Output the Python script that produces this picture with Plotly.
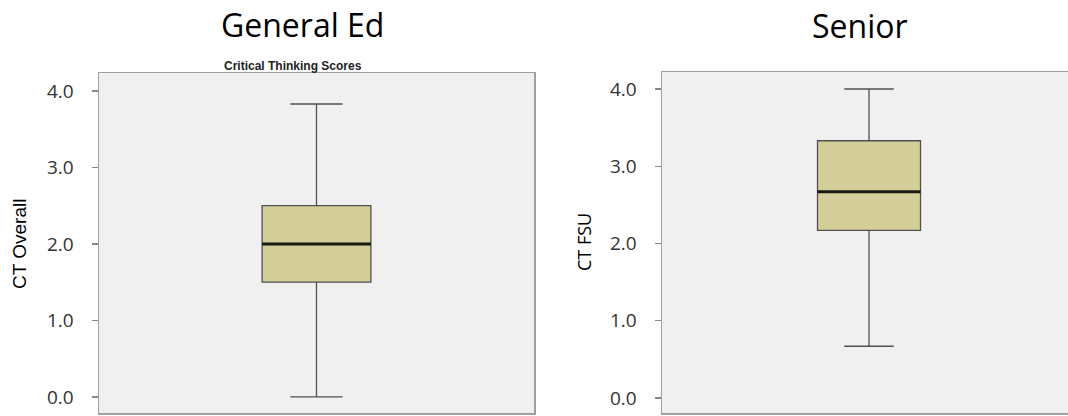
import plotly.graph_objects as go

# ---- data ----
panels = ["General Ed", "Senior"]
y_titles = ["CT Overall", "CT FSU"]
subtitle = "Critical Thinking Scores"
lower_fence = [0.0, 0.67]
q1_vals = [1.5, 2.17]
median_vals = [2.0, 2.67]
q3_vals = [2.5, 3.33]
upper_fence = [3.83, 4.0]
tick_vals = [0, 1, 2, 3, 4]
tick_text = ["0.0", "1.0", "2.0", "3.0", "4.0"]

W, H = 1068, 416
BOX_W = 0.5
fill = "rgb(212,207,152)"
edge = "rgb(80,80,80)"
frame = "rgb(160,160,160)"

fig = go.Figure()
axes = [("x", "y"), ("x2", "y2")]
for i, (xa, ya) in enumerate(axes):
    fig.add_trace(go.Box(
        x=[0], q1=[q1_vals[i]], median=[median_vals[i]], q3=[q3_vals[i]],
        lowerfence=[lower_fence[i]], upperfence=[upper_fence[i]],
        width=BOX_W, whiskerwidth=0.48, fillcolor=fill,
        line=dict(color=edge, width=1.3), boxpoints=False,
        xaxis=xa, yaxis=ya, showlegend=False, hoverinfo="skip"))
    fig.add_trace(go.Scatter(
        x=[-BOX_W / 2, BOX_W / 2], y=[median_vals[i]] * 2, mode="lines",
        line=dict(color="rgb(25,25,20)", width=3), xaxis=xa, yaxis=ya,
        showlegend=False, hoverinfo="skip"))

tickfont = dict(family="Open Sans", size=19, color="#333333")
yax_common = dict(tickvals=tick_vals, ticktext=tick_text, ticks="outside",
                  ticklen=6, tickcolor="#888888", tickwidth=1.2,
                  showgrid=False, zeroline=False, showline=True,
                  linecolor=frame, linewidth=1.5, tickfont=tickfont,
                  ticklabelstandoff=14, fixedrange=True)
xax_common = dict(showticklabels=False, showgrid=False, zeroline=False,
                  showline=True, mirror=True, linecolor=frame, linewidth=1.5,
                  ticks="", fixedrange=True)

fig.update_layout(
    width=W, height=H, margin=dict(l=0, r=0, t=0, b=0),
    paper_bgcolor="white", plot_bgcolor="rgb(240,240,240)",
    xaxis=dict(domain=[99 / W, 534 / W], range=[-1, 1], anchor="y", **xax_common),
    yaxis=dict(domain=[1 - 413 / H, 1 - 73 / H], range=[-0.21, 4.235],
               anchor="x", mirror=True, **yax_common),
    xaxis2=dict(domain=[662 / W, 1], range=[-1.005, 0.966], anchor="y2", **xax_common),
    yaxis2=dict(domain=[1 - 413 / H, 1 - 72 / H], range=[-0.194, 4.22],
                anchor="x2", mirror=False, **yax_common),
)

ann = []
ann.append(dict(text=panels[0], x=302 / W, y=1 - 24 / H, xref="paper", yref="paper",
                showarrow=False, xanchor="center", yanchor="middle",
                font=dict(family="Open Sans", size=32, color="black")))
ann.append(dict(text=panels[1], x=860 / W, y=1 - 25 / H, xref="paper", yref="paper",
                showarrow=False, xanchor="center", yanchor="middle",
                font=dict(family="Open Sans", size=32, color="black")))
ann.append(dict(text="<b>" + subtitle + "</b>", x=293 / W, y=1 - 66 / H,
                xref="paper", yref="paper", showarrow=False,
                xanchor="center", yanchor="middle",
                font=dict(family="Liberation Sans", size=12, color="#222222")))
ann.append(dict(text=y_titles[0], x=19 / W, y=1 - 244 / H, xref="paper", yref="paper",
                showarrow=False, textangle=-90, xanchor="center", yanchor="middle",
                font=dict(family="Liberation Sans", size=19, color="black")))
ann.append(dict(text=y_titles[1], x=584 / W, y=1 - 242 / H, xref="paper", yref="paper",
                showarrow=False, textangle=-90, xanchor="center", yanchor="middle",
                font=dict(family="Open Sans", size=18, color="black")))
fig.update_layout(annotations=ann)

fig.write_html("out.html", config={"displayModeBar": False, "staticPlot": True},
               post_script="document.body.style.margin='0';document.body.style.overflow='hidden';")
